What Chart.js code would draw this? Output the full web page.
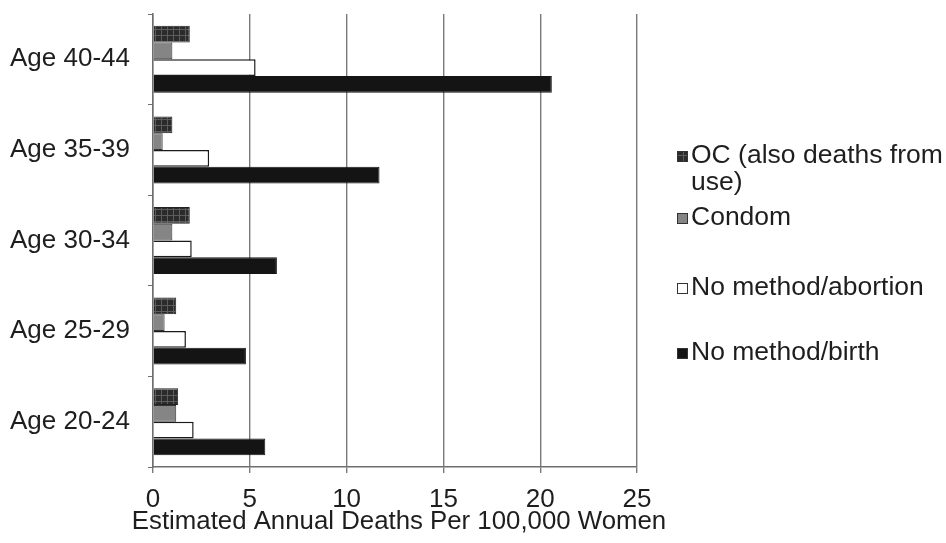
<!DOCTYPE html>
<html>
<head>
<meta charset="utf-8">
<script src="https://cdn.jsdelivr.net/npm/chart.js@4.4.1/dist/chart.umd.min.js"></script>
<style>
    html, body { margin: 0; padding: 0; background: #fff; }
</style>
</head>
<body>
<canvas id="chrtDeaths" width="946" height="543"></canvas>
<script>
// values
const ageGroups = ["Age 40-44", "Age 35-39", "Age 30-34", "Age 25-29", "Age 20-24"];
const ocDeaths = [1.9, 1.0, 1.9, 1.2, 1.3];
const condomDeaths = [1.0, 0.5, 1.0, 0.6, 1.2];
const abortionDeaths = [5.3, 2.9, 2.0, 1.7, 2.1];
const birthDeaths = [20.6, 11.7, 6.4, 4.8, 5.8];
const seriesNames = ["OC (also deaths from use)", "Condom", "No method/abortion", "No method/birth"];
const xMin = 0, xMax = 25, xStep = 5;
const xTitle = "Estimated Annual Deaths Per 100,000 Women";

((d) => {
    const CHRT = d.getElementById("chrtDeaths");
    const FONT = "'Liberation Sans', Arial, sans-serif";
    const TXT = "#1e1e1e";

    // checkered fill for the OC bars
    function checkerPattern() {
        const pc = d.createElement("canvas");
        pc.width = 6; pc.height = 6;
        const p = pc.getContext("2d");
        p.fillStyle = "#2b2b2b";
        p.fillRect(0, 0, 6, 6);
        p.fillStyle = "#5c5c5c";
        p.fillRect(5, 0, 1, 6);
        p.fillRect(0, 5, 6, 1);
        return p.createPattern(pc, "repeat");
    }

    const legendRows = [156, 218, 288, 353];
    const legendX = 677;

    const sideLegend = {
        id: "sideLegend",
        afterDraw(chart) {
            const ctx = chart.ctx;
            ctx.save();
            ctx.font = "26.5px " + FONT;
            ctx.textBaseline = "middle";
            chart.data.datasets.forEach((ds, i) => {
                let y = legendRows[i];
                ctx.fillStyle = ds.backgroundColor;
                ctx.fillRect(legendX, y - 5, 11, 11);
                ctx.strokeStyle = "#333";
                ctx.lineWidth = 1;
                ctx.strokeRect(legendX + 0.5, y - 4.5, 10, 10);
                // wrap long labels like Excel does
                let words = ds.label.split(" "), line = "", lines = [];
                for (let w of words) {
                    let test = line ? line + " " + w : w;
                    if (ctx.measureText(test).width > 262 && line) {
                        lines.push(line);
                        line = w;
                    } else {
                        line = test;
                    }
                }
                lines.push(line);
                ctx.fillStyle = TXT;
                lines.forEach((ln, k) => ctx.fillText(ln, legendX + 14, y + k * 27));
            });
            // axis title, wider than the plot itself so drawn here
            const xs = chart.scales.x;
            ctx.font = "25.8px " + FONT;
            ctx.textAlign = "center";
            ctx.fillText(xTitle, (xs.left + xs.right) / 2 + 4, 522);
            ctx.restore();
        }
    };

    new Chart(CHRT, {
        type: "bar",
        data: {
            labels: ageGroups,
            datasets: [{
                label: seriesNames[0],
                data: ocDeaths,
                backgroundColor: checkerPattern(),
                borderColor: "#222",
                borderWidth: 1
            }, {
                label: seriesNames[1],
                data: condomDeaths,
                backgroundColor: "#858585",
                borderColor: "#333",
                borderWidth: 1
            }, {
                label: seriesNames[2],
                data: abortionDeaths,
                backgroundColor: "#ffffff",
                borderColor: "#1a1a1a",
                borderWidth: 1.5
            }, {
                label: seriesNames[3],
                data: birthDeaths,
                backgroundColor: "#141414",
                borderColor: "#141414",
                borderWidth: 1
            }]
        },
        options: {
            indexAxis: "y",
            responsive: false,
            animation: false,
            devicePixelRatio: 1,
            datasets: {
                bar: { categoryPercentage: 0.74, barPercentage: 1 }
            },
            layout: { padding: { top: 14, right: 309, left: 0, bottom: 0 } },
            plugins: {
                legend: { display: false },
                tooltip: { enabled: false }
            },
            scales: {
                x: {
                    type: "linear",
                    min: xMin,
                    max: xMax,
                    afterFit: (s) => { s.height = 76; },
                    ticks: {
                        stepSize: xStep,
                        color: TXT,
                        padding: 14,
                        font: { family: FONT, size: 26, lineHeight: 1 }
                    },
                    grid: { color: "#7a7a7a", lineWidth: 1.4, tickLength: 6 },
                    border: { display: true, color: "#6e6e6e", width: 1.5 }
                },
                y: {
                    afterFit: (s) => {
                        s.width = 153;
                        s.paddingTop = 0;
                        s.paddingBottom = 0;
                    },
                    ticks: {
                        color: TXT,
                        padding: 18,
                        font: { family: FONT, size: 26 }
                    },
                    grid: { offset: true, drawOnChartArea: false, tickLength: 5, color: "#6e6e6e" },
                    border: { display: true, color: "#6e6e6e", width: 1.5 }
                }
            }
        },
        plugins: [sideLegend]
    });
})(document);
</script>
</body>
</html>
